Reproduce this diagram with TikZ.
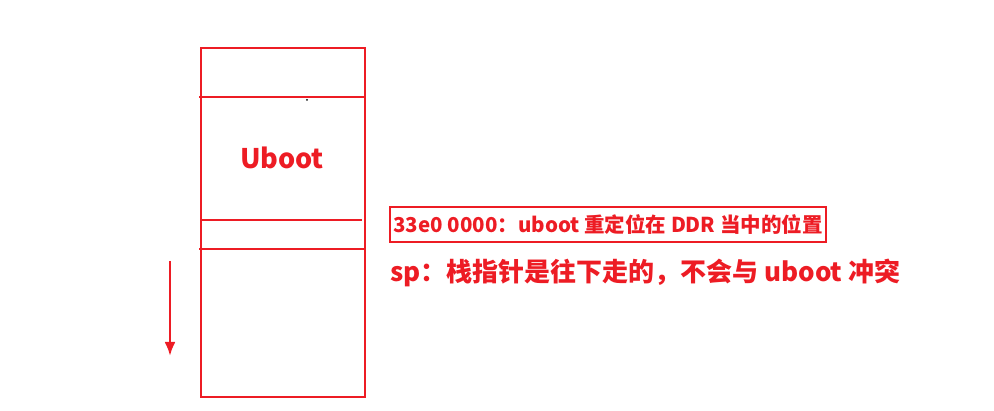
\documentclass[tikz,border=0pt]{standalone}
\usepackage{fontspec}
\setmainfont{Noto Sans CJK SC}
\usetikzlibrary{arrows.meta}
\definecolor{paintred}{RGB}{237,28,36}
\tikzset{
    memline/.style = {draw=paintred, line width=2.6pt},
    memtext/.style = {align=center, inner sep=0pt, text=paintred, font=\bfseries},
    addrbox/.style = {memtext, draw=paintred, line width=2.6pt, minimum width=436pt, minimum height=35pt, font=\bfseries\fontsize{20.5}{22}\selectfont},
    note/.style = {memtext, anchor=west, font=\bfseries\fontsize{26}{28}\selectfont}
}
\begin{document}
\begin{tikzpicture}
            [x=1pt, y=-1pt]
            \useasboundingbox (0,0) rectangle (994,411);

            % memory column
            \draw [memline] (201,48) rectangle (365,397);
            \draw [memline] (199,97) -- (365,97);
            \draw [memline] (201,220) -- (362,220);
            \draw [memline] (199,249) -- (365,249);
            \fill (307,100) circle (1pt);

            \node [memtext, font=\bfseries\fontsize{27}{30}\selectfont] (uboot) at (282,158) {Uboot};

            % stack direction
            \coordinate (sptop) at (170,261);
            \coordinate (spbot) at (170,356);
            \draw [-{Latex[length=14pt,width=11pt]}, memline] (sptop) -- (spbot);

            \node [addrbox] (addr) at (608,224.5) {33e0 0000：uboot 重定位在 DDR 当中的位置};
            \node [note] (sp) at (390,273) {sp：栈指针是往下走的，不会与 uboot 冲突};
\end{tikzpicture}
\end{document}
